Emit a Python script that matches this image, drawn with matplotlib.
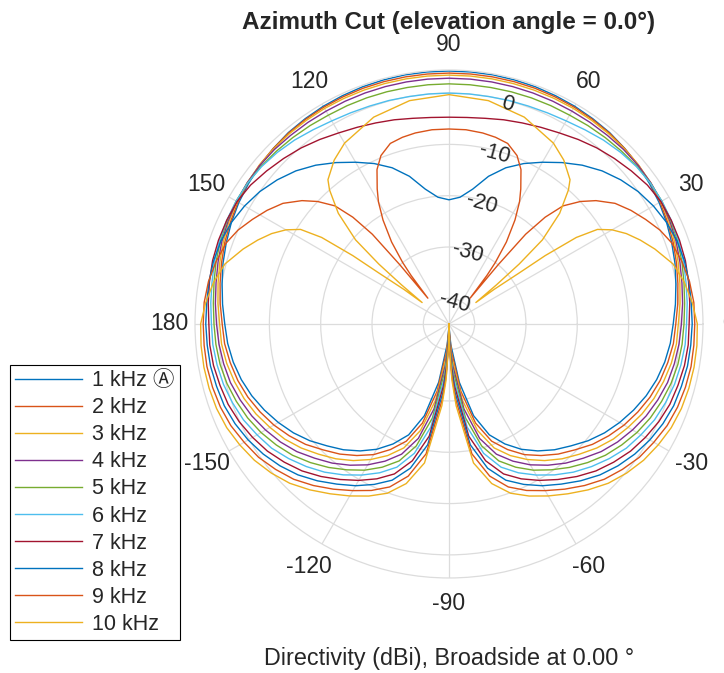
import numpy as np
import matplotlib.pyplot as plt

plt.rcParams['font.family'] = ['Liberation Sans', 'DejaVu Sans', 'Noto Sans CJK JP']

# directivity (dBi) of each frequency, right half of the cut; left half is the mirror image
freq_labels = ['1 kHz \u24b6', '2 kHz', '3 kHz', '4 kHz', '5 kHz',
               '6 kHz', '7 kHz', '8 kHz', '9 kHz', '10 kHz']
line_colors = ['#0072BD', '#D95319', '#EDB120', '#7E2F8E', '#77AC30',
               '#4DBEEE', '#A2142F', '#0072BD', '#D95319', '#EDB120']

# back half (-90 .. 0 deg), shared by all traces
ang_back = [-90, -89, -87, -85, -80, -75, -70, -65, -60, -55, -50,
            -45, -40, -35, -30, -25, -20, -15, -10, -5, 0]
back_1k = [-45, -45.0, -44.0, -41.0, -33.5, -26.5, -22.0, -19.2, -16.8, -14.8, -13.0,
           -11.4, -9.6, -8.0, -6.6, -5.3, -4.1, -3.1, -2.3, -1.7, -1.3]
back_2k = [-45, -44.6, -42.9, -39.7, -31.7, -25.0, -20.7, -18.0, -15.6, -13.7, -11.9,
           -10.3, -8.5, -7.0, -5.6, -4.4, -3.3, -2.4, -1.7, -1.1, -0.8]
back_3k = [-45, -44.1, -41.8, -38.3, -29.9, -23.5, -19.3, -16.7, -14.5, -12.5, -10.7,
           -9.1, -7.4, -5.9, -4.7, -3.5, -2.5, -1.7, -1.0, -0.5, -0.3]
back_4k = [-45, -43.7, -40.7, -37.0, -28.2, -21.9, -18.0, -15.5, -13.3, -11.4, -9.6,
           -8.0, -6.3, -4.9, -3.7, -2.6, -1.7, -0.9, -0.4, 0.0, 0.3]
back_5k = [-45, -43.2, -39.6, -35.7, -26.4, -20.4, -16.6, -14.2, -12.1, -10.3, -8.5,
           -6.8, -5.2, -3.9, -2.7, -1.7, -0.9, -0.2, 0.3, 0.6, 0.8]
back_6k = [-45, -42.8, -38.4, -34.3, -24.6, -18.9, -15.3, -13.0, -11.0, -9.1, -7.3,
           -5.7, -4.2, -2.8, -1.8, -0.8, -0.1, 0.5, 0.9, 1.2, 1.3]
back_7k = [-45, -42.3, -37.3, -33.0, -22.8, -17.4, -13.9, -11.7, -9.8, -8.0, -6.2,
           -4.5, -3.1, -1.8, -0.8, 0.1, 0.8, 1.2, 1.6, 1.8, 1.8]
back_8k = [-45, -41.9, -36.2, -31.7, -21.1, -15.9, -12.6, -10.5, -8.6, -6.9, -5.1,
           -3.4, -2.0, -0.8, 0.2, 1.0, 1.6, 1.9, 2.2, 2.3, 2.4]
back_9k = [-45, -41.4, -35.1, -30.3, -19.3, -14.3, -11.2, -9.2, -7.5, -5.7, -3.9,
           -2.2, -0.9, 0.3, 1.1, 1.9, 2.4, 2.7, 2.9, 2.9, 2.9]
back_10k = [-45, -41.0, -34.0, -29.0, -17.5, -12.8, -9.9, -8.0, -6.3, -4.6, -2.8,
            -1.1, 0.2, 1.3, 2.1, 2.8, 3.2, 3.4, 3.5, 3.5, 3.4]

# front half (5 .. 90 deg)
ang_front = [5, 10, 15, 20, 25, 30, 35, 40, 45, 50, 55, 60, 65, 70, 75, 80, 85, 90]
front_1k = [-0.7, -0.1, 0.6, 1.2, 1.8, 2.3, 2.7, 3.1, 3.4, 3.7, 3.85, 4.0, 4.1, 4.2,
            4.25, 4.3, 4.3, 4.3]
front_2k = [-0.25, 0.3, 0.9, 1.5, 2.0, 2.5, 2.9, 3.2, 3.4, 3.6, 3.7, 3.8, 3.85, 3.9,
            3.9, 3.9, 3.9, 3.9]
front_3k = [0.2, 0.7, 1.25, 1.8, 2.3, 2.7, 3.0, 3.2, 3.3, 3.4, 3.45, 3.5, 3.5, 3.5,
            3.5, 3.5, 3.5, 3.5]
front_4k = [0.7, 1.1, 1.6, 2.1, 2.5, 2.8, 3.0, 3.1, 3.1, 3.0, 2.95, 2.9, 2.9, 2.9,
            2.9, 2.9, 2.9, 2.9]
front_5k = [1.1, 1.5, 2.0, 2.4, 2.7, 2.9, 2.9, 2.8, 2.6, 2.4, 2.2, 2.0, 1.95, 1.9,
            1.85, 1.8, 1.8, 1.8]
front_6k = [1.6, 1.9, 2.3, 2.6, 2.8, 2.9, 2.9, 2.7, 2.3, 1.8, 1.2, 0.7, 0.4, 0.2,
            0.1, 0.0, 0.0, 0.0]
front_7k = [2.1, 2.4, 2.7, 2.8, 2.8, 2.7, 2.2, 1.4, 0.6, -0.2, -1.1, -2.0, -2.7, -3.3,
            -3.8, -4.3, -4.6, -4.7]
front_8k = [2.4, 2.5, 2.5, 2.3, 1.8, 1.0, 0.0, -1.3, -2.8, -4.6, -6.6, -8.6, -10.5,
            -12.6, -15.2, -18.3, -20.2, -20.8]

ang_front_9k = [5, 10, 15, 20, 24, 28, 32, 36, 40, 43, 46, 48, 49.5, 50.3, 50.7,
                52, 53, 55, 57.6, 60, 62, 65, 68, 72, 76, 80, 85, 90]
front_9k = [2.9, 2.6, 2.0, 1.2, 0.0, -1.6, -3.2, -5.0, -7.6, -10.0, -13.0, -17.0, -22.0,
            -30.0, -38.5, -33.0, -30.0, -25.5, -21.0, -17.5, -15.2, -11.8, -9.6, -8.0,
            -7.5, -7.2, -7.0, -7.0]

ang_front_10k = [5, 10, 15, 20, 23.7, 27, 30, 32.5, 34.2, 35.4, 36, 37.5, 38.6,
                 39.5, 40.5, 42, 45, 48.3, 50, 55, 60, 70, 80, 90]
front_10k = [2.6, 1.6, 0.2, -2.3, -4.3, -6.2, -8.3, -10.7, -15.0, -22.0, -28.0, -34.0,
             -38.3, -33.0, -27.0, -20.5, -14.5, -10.0, -8.3, -6.0, -4.3, -2.1, -0.8, -0.3]

back_all = [back_1k, back_2k, back_3k, back_4k, back_5k,
            back_6k, back_7k, back_8k, back_9k, back_10k]
front_all = [front_1k, front_2k, front_3k, front_4k, front_5k,
             front_6k, front_7k, front_8k, front_9k, front_10k]
front_angles = [ang_front] * 8 + [ang_front_9k, ang_front_10k]

theta_ticks = [0, 30, 60, 90, 120, 150, 180, -150, -120, -90, -60, -30]
mag_ticks = [-40, -30, -20, -10, 0]
mag_lim = (-45, 4.5)

txt_color = '#262626'
grid_color = '#dcdcdc'

fig = plt.figure(figsize=(7.24, 6.73), dpi=100)
ax = fig.add_axes([0.2693, 0.1412, 0.7017, 0.7548], projection='polar')

handles = []
for back, front, fang, col, lab in zip(back_all, front_all, front_angles,
                                       line_colors, freq_labels):
    ang = np.concatenate([ang_back, fang])
    mag = np.concatenate([back, front])
    # mirror about the 90/-90 axis
    ang_full = np.concatenate([ang, 180 - ang[::-1]])
    mag_full = np.concatenate([mag, mag[::-1]])
    h, = ax.plot(np.deg2rad(ang_full), mag_full, color=col, lw=1.0, label=lab)
    handles.append(h)

ax.set_ylim(*mag_lim)
ax.set_yticks(mag_ticks)
ax.set_yticklabels([])
ax.set_xticks(np.deg2rad([t % 360 for t in theta_ticks]))
ax.set_xticklabels([str(t) for t in theta_ticks], fontsize=16.5, color=txt_color)
ax.tick_params(axis='x', pad=8)
ax.grid(True, color=grid_color, lw=0.9)
ax.spines['polar'].set_color(grid_color)
ax.spines['polar'].set_linewidth(0.9)

# magnitude labels along the 75 deg spoke
for m in mag_ticks:
    ax.text(np.deg2rad(75), m - 0.7, str(m), rotation=-15, ha='center', va='center',
            fontsize=15.5, color=txt_color)

fig.text(449 / 724, 1 - 23 / 673, 'Azimuth Cut (elevation angle = 0.0\u00b0)',
         ha='center', va='center', fontsize=17.5, fontweight='bold', color=txt_color)
fig.text(449.5 / 724, 1 - 658 / 673, 'Directivity (dBi), Broadside at 0.00 \u00b0',
         ha='center', va='center', fontsize=16.8, color=txt_color)

leg = fig.legend(handles=handles, loc='lower left', bbox_to_anchor=(10 / 724, 33 / 673),
                 borderaxespad=0, fontsize=15.5, frameon=True, fancybox=False,
                 edgecolor='black', framealpha=1, handlelength=3.1, handletextpad=0.45,
                 labelspacing=0.28, borderpad=0.25)
leg.get_frame().set_linewidth(0.8)
for t in leg.get_texts():
    t.set_color(txt_color)

fig.savefig('out.png', dpi=100)
